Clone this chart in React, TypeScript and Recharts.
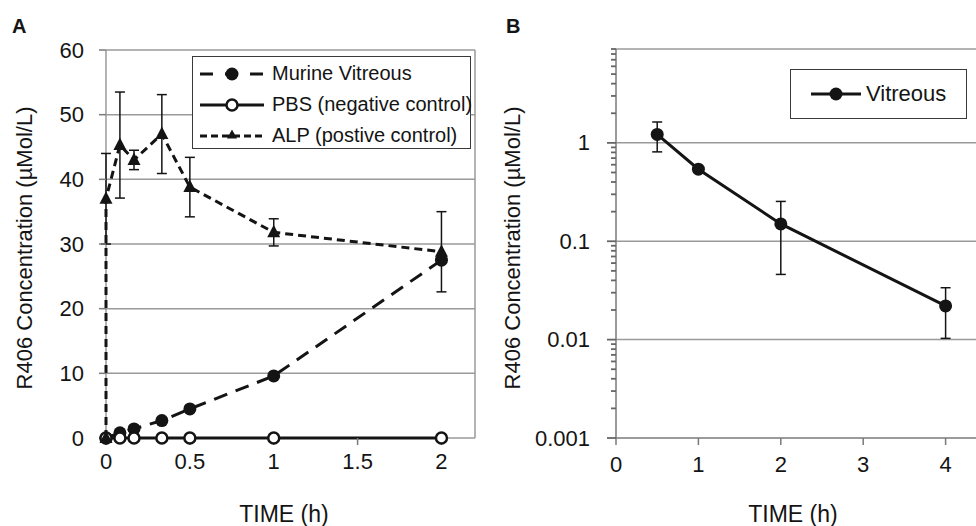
import React from 'react';
import {
  LineChart,
  Line,
  XAxis,
  YAxis,
  CartesianGrid,
  ReferenceLine,
  ErrorBar,
  Legend,
  Label,
} from 'recharts';

// Panel A: sampling times (h) and concentrations (µMol/L)
const timesA = [0, 0.083, 0.167, 0.333, 0.5, 1, 2];
const murineValues = [0, 0.8, 1.4, 2.7, 4.5, 9.6, 27.5];
const pbsValues = [0, 0, 0, 0, 0, 0, 0];
const alpTimes = [0, 0, 0.083, 0.167, 0.333, 0.5, 1, 2];
const alpValues = [0, 37, 45.3, 43, 47, 38.8, 31.8, 28.8];
const alpErrors = [0, 7, 8.2, 1.5, 6.1, 4.6, 2.1, 6.2];
const ticksAX = [0, 0.5, 1, 1.5, 2];
const ticksAY = [0, 10, 20, 30, 40, 50, 60];

// Panel B: vitreous concentration, log scale
const timesB = [0.5, 1, 2, 4];
const vitreousValues = [1.22, 0.54, 0.15, 0.022];
const vitreousErrors = [0.41, 0, 0.104, 0.0117];
const ticksBX = [0, 1, 2, 3, 4];
const majorTicksB = [0.001, 0.01, 0.1, 1];
const gridB = [0.01, 0.1, 1];

const X_MAX_A = 2.2;
const X_MAX_B = 5;
const Y_MAX_B = 9;

const minorTicksB = majorTicksB.flatMap((d) =>
  [2, 3, 4, 5, 6, 7, 8, 9].map((k) => Number((d * k).toPrecision(3)))
);
const allTicksB = [...majorTicksB, ...minorTicksB].sort((a, b) => a - b);

const murineData = timesA.map((t, i) => ({ t, y: murineValues[i] }));
const pbsData = timesA.map((t, i) => ({ t, y: pbsValues[i] }));
const alpData = alpTimes.map((t, i) => ({ t, y: alpValues[i], err: alpErrors[i] }));
const vitreousData = timesB.map((t, i) => ({ t, y: vitreousValues[i], err: vitreousErrors[i] }));

const FONT = "'Liberation Sans', Arial, sans-serif";
const INK = '#141414';
const GRID = '#9a9a9a';
const AXIS = '#7a7a7a';

// left and right border of the plot area, drawn as grid lines (behind the series)
const borderLines = ({ offset }: any) => [offset.left, offset.left + offset.width];

const Triangle = (props: any) => {
  const { cx, cy, index } = props;
  if (cx == null || cy == null) return null;
  return (
    <path
      key={`tri-${index}`}
      d={`M${cx},${cy - 7.5} L${cx + 6.5},${cy + 5} L${cx - 6.5},${cy + 5} Z`}
      fill={INK}
    />
  );
};

// major ticks carry a label, minor ticks are just a short mark
const LogTick = (props: any) => {
  const { x, y, payload } = props;
  const v = payload.value;
  const major = majorTicksB.includes(v);
  const len = major ? 9 : 5;
  return (
    <g>
      <path d={`M${x - len},${y}H${x}`} stroke="#666" strokeWidth={1.8} fill="none" />
      {major && (
        <text x={x - 26} y={y} textAnchor="end" dominantBaseline="central" fontSize={22} fill={INK}>
          {String(v)}
        </text>
      )}
    </g>
  );
};

const LegendIcon = ({ kind }: { kind: string }) => (
  <svg width={64} height={20} style={{ display: 'block', flex: 'none' }}>
    {kind === 'murine' && (
      <>
        <line x1={0} x2={64} y1={10} y2={10} stroke={INK} strokeWidth={3} strokeDasharray="13 12" />
        <circle cx={32} cy={10} r={6.5} fill={INK} />
      </>
    )}
    {kind === 'pbs' && (
      <>
        <line x1={0} x2={64} y1={10} y2={10} stroke={INK} strokeWidth={3} />
        <circle cx={32} cy={10} r={5.5} fill="#fff" stroke={INK} strokeWidth={2.5} />
      </>
    )}
    {kind === 'alp' && (
      <>
        <line x1={0} x2={64} y1={10} y2={10} stroke={INK} strokeWidth={3} strokeDasharray="7 4" />
        <path d="M32,3.5 L37,12.5 L27,12.5 Z" fill={INK} />
      </>
    )}
  </svg>
);

const legendItemsA = [
  { kind: 'murine', label: 'Murine Vitreous' },
  { kind: 'pbs', label: 'PBS (negative control)' },
  { kind: 'alp', label: 'ALP (postive control)' },
];

const LegendA = () => (
  <div
    style={{
      border: '1.5px solid #3a3a3a',
      background: '#fff',
      width: 279,
      height: 93,
      boxSizing: 'border-box',
      paddingTop: 1,
    }}
  >
    {legendItemsA.map((it) => (
      <div key={it.kind} style={{ display: 'flex', alignItems: 'center', height: 31, paddingLeft: 7 }}>
        <LegendIcon kind={it.kind} />
        <span style={{ marginLeft: 8, fontSize: 20, color: INK, whiteSpace: 'nowrap' }}>{it.label}</span>
      </div>
    ))}
  </div>
);

const LegendB = () => (
  <div
    style={{
      border: '1.5px solid #3a3a3a',
      background: '#fff',
      width: 177,
      height: 50,
      boxSizing: 'border-box',
      display: 'flex',
      alignItems: 'center',
      paddingLeft: 20,
    }}
  >
    <svg width={50} height={20} style={{ display: 'block', flex: 'none' }}>
      <line x1={0} x2={50} y1={10} y2={10} stroke={INK} strokeWidth={3} />
      <circle cx={25} cy={10} r={6.5} fill={INK} />
    </svg>
    <span style={{ marginLeft: 5, fontSize: 22, color: INK }}>Vitreous</span>
  </div>
);

const PanelA = () => (
  <LineChart width={490} height={526} margin={{ top: 50, right: 15, bottom: 48, left: 0 }}>
    <CartesianGrid stroke={GRID} strokeWidth={1.5} verticalCoordinatesGenerator={borderLines} />
    <XAxis
      dataKey="t"
      type="number"
      domain={[0, X_MAX_A]}
      ticks={ticksAX}
      height={40}
      tickSize={7}
      tickMargin={8}
      axisLine={false}
      tickLine={{ stroke: AXIS, strokeWidth: 1.5 }}
      tick={{ fontSize: 22, fill: INK }}
    >
      <Label
        content={() => (
          <text x={284} y={514} textAnchor="middle" dominantBaseline="central" fontSize={23} fill={INK}>
            TIME (h)
          </text>
        )}
      />
    </XAxis>
    <YAxis
      type="number"
      domain={[0, 60]}
      ticks={ticksAY}
      width={106}
      tickSize={7}
      tickMargin={15}
      axisLine={false}
      tickLine={{ stroke: AXIS, strokeWidth: 1.5 }}
      tick={{ fontSize: 22, fill: INK }}
    >
      <Label
        content={() => (
          <text
            x={24}
            y={248}
            transform="rotate(-90 24 248)"
            textAnchor="middle"
            dominantBaseline="central"
            fontSize={22}
            fill={INK}
          >
            R406 Concentration (µMol/L)
          </text>
        )}
      />
    </YAxis>
    <Line
      data={murineData}
      dataKey="y"
      name="Murine Vitreous"
      stroke={INK}
      strokeWidth={3}
      strokeDasharray="14 9"
      dot={{ r: 6.5, fill: INK, stroke: INK, strokeWidth: 0, strokeDasharray: '0' }}
      activeDot={false}
      isAnimationActive={false}
    />
    <Line
      data={pbsData}
      dataKey="y"
      name="PBS (negative control)"
      stroke={INK}
      strokeWidth={3}
      dot={{ r: 5.5, fill: '#fff', stroke: INK, strokeWidth: 2.5 }}
      activeDot={false}
      isAnimationActive={false}
    />
    <Line
      data={alpData}
      dataKey="y"
      name="ALP (postive control)"
      stroke={INK}
      strokeWidth={3}
      strokeDasharray="8 5"
      dot={Triangle}
      activeDot={false}
      isAnimationActive={false}
    >
      <ErrorBar dataKey="err" direction="y" width={5} stroke={INK} strokeWidth={1.5} />
    </Line>
    <Legend
      layout="vertical"
      align="center"
      verticalAlign="middle"
      wrapperStyle={{ position: 'absolute', left: 192, top: 56, width: 'auto', height: 'auto' }}
      content={() => <LegendA />}
    />
  </LineChart>
);

const PanelB = () => (
  <LineChart width={560} height={526} margin={{ top: 49, right: 12, bottom: 48, left: 0 }}>
    <XAxis
      dataKey="t"
      type="number"
      domain={[0, X_MAX_B]}
      ticks={ticksBX}
      height={40}
      tickSize={7}
      tickMargin={11}
      axisLine={{ stroke: AXIS, strokeWidth: 1.5 }}
      tickLine={{ stroke: AXIS, strokeWidth: 1.5 }}
      tick={{ fontSize: 22, fill: INK }}
    >
      <Label
        content={() => (
          <text x={313} y={514} textAnchor="middle" dominantBaseline="central" fontSize={23} fill={INK}>
            TIME (h)
          </text>
        )}
      />
    </XAxis>
    <YAxis
      type="number"
      scale="log"
      domain={[0.001, Y_MAX_B]}
      ticks={allTicksB}
      interval={0}
      width={136}
      tickSize={0}
      tickMargin={0}
      tickLine={false}
      axisLine={{ stroke: AXIS, strokeWidth: 1.5 }}
      tick={LogTick}
      allowDataOverflow
    >
      <Label
        content={() => (
          <text
            x={32}
            y={248}
            transform="rotate(-90 32 248)"
            textAnchor="middle"
            dominantBaseline="central"
            fontSize={22}
            fill={INK}
          >
            R406 Concentration (µMol/L)
          </text>
        )}
      />
    </YAxis>
    {gridB.map((g) => (
      <ReferenceLine key={g} y={g} stroke={GRID} strokeWidth={1.5} />
    ))}
    <ReferenceLine y={Y_MAX_B} stroke={GRID} strokeWidth={1.5} />
    <Line
      data={vitreousData}
      dataKey="y"
      name="Vitreous"
      stroke={INK}
      strokeWidth={3}
      dot={{ r: 6.5, fill: INK, stroke: INK, strokeWidth: 0 }}
      activeDot={false}
      isAnimationActive={false}
    >
      <ErrorBar dataKey="err" direction="y" width={5} stroke={INK} strokeWidth={1.5} />
    </Line>
    <Legend
      layout="vertical"
      align="center"
      verticalAlign="middle"
      wrapperStyle={{ position: 'absolute', left: 310, top: 69, width: 'auto', height: 'auto' }}
      content={() => <LegendB />}
    />
  </LineChart>
);

export default function App() {
  return (
    <div
      style={{
        position: 'absolute',
        left: 0,
        top: 0,
        width: 976,
        height: 526,
        overflow: 'hidden',
        background: '#fff',
        fontFamily: FONT,
      }}
    >
      <div style={{ position: 'absolute', left: 12, top: 15, fontSize: 20, fontWeight: 'bold', color: INK }}>A</div>
      <div style={{ position: 'absolute', left: 506, top: 15, fontSize: 20, fontWeight: 'bold', color: INK }}>B</div>
      <div style={{ position: 'absolute', left: 0, top: 0 }}>
        <PanelA />
      </div>
      <div style={{ position: 'absolute', left: 480, top: 0 }}>
        <PanelB />
      </div>
    </div>
  );
}
